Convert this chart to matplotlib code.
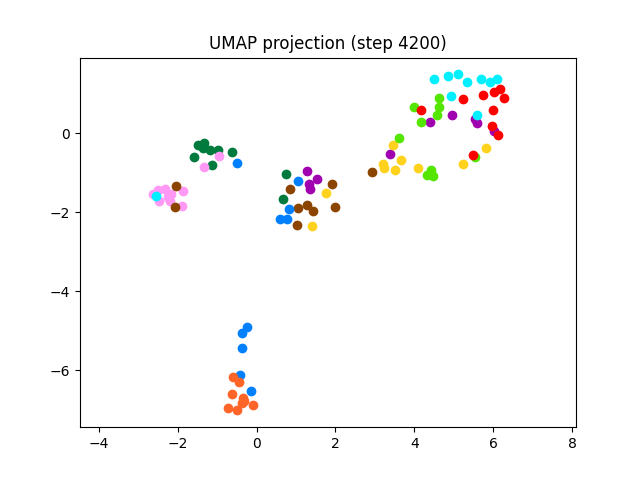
import matplotlib
matplotlib.use("Agg")
import matplotlib.pyplot as plt

# cluster points, grouped by colour
green_x = [-1.48, -1.33, -1.36, -1.37, -1.19, -0.97, -1.58, -1.14, -0.62]
green_y = [-0.30, -0.25, -0.36, -0.30, -0.43, -0.41, -0.60, -0.81, -0.47]

pink_x = [-0.95, -1.33, -2.62, -2.50, -2.33, -2.16, -1.86, -2.47, -2.20, -1.90, -2.25]
pink_y = [-0.58, -0.85, -1.53, -1.44, -1.40, -1.53, -1.46, -1.71, -1.71, -1.85, -1.60]

blue_x = [-0.49, 1.06, 0.82, 0.59, 0.76, -0.25, -0.38, -0.38, -0.41, -0.14]
blue_y = [-0.75, -1.21, -1.92, -2.16, -2.16, -4.90, -5.06, -5.44, -6.11, -6.52]

brown_x = [-2.05, -2.06, 0.85, 1.92, 1.04, 1.27, 1.44, 1.99, 1.02, 2.92]
brown_y = [-1.34, -1.87, -1.40, -1.29, -1.88, -1.82, -1.97, -1.87, -2.31, -0.98]

dkgreen2_x = [0.74, 0.68]
dkgreen2_y = [-1.04, -1.65]

purple_x = [1.27, 1.52, 1.34, 1.35, 4.96, 4.40, 5.54, 5.60, 6.02, 3.38]
purple_y = [-0.95, -1.15, -1.27, -1.40, 0.47, 0.29, 0.35, 0.25, 0.05, -0.53]

yellow_x = [1.76, 1.41, 3.45, 3.65, 3.20, 3.23, 3.50, 4.09, 5.24, 5.81]
yellow_y = [-1.50, -2.35, -0.29, -0.67, -0.78, -0.87, -0.94, -0.89, -0.77, -0.37]

lime_x = [4.62, 4.63, 3.99, 4.57, 4.16, 3.60, 5.54, 4.42, 4.31, 4.48]
lime_y = [0.89, 0.67, 0.67, 0.47, 0.29, -0.12, -0.60, -0.94, -1.06, -1.09]

red_x = [5.24, 5.74, 6.01, 6.16, 6.28, 6.00, 4.17, 5.98, 6.11, 5.50]
red_y = [0.88, 0.96, 1.05, 1.11, 0.89, 0.60, 0.60, 0.18, -0.05, -0.56]

cyan_x = [4.50, 4.85, 5.10, 5.33, 5.69, 5.92, 6.09, 4.92, 5.58, -2.56]
cyan_y = [1.37, 1.44, 1.49, 1.30, 1.38, 1.30, 1.37, 0.94, 0.47, -1.59]

orange_x = [-0.59, -0.44, -0.63, -0.34, -0.36, -0.10, -0.72, -0.51, -0.32]
orange_y = [-6.17, -6.30, -6.59, -6.69, -6.83, -6.87, -6.95, -7.01, -6.76]

groups = [
    (green_x + dkgreen2_x, green_y + dkgreen2_y, "#007a3d"),
    (pink_x, pink_y, "#ff99f5"),
    (brown_x, brown_y, "#8b4500"),
    (purple_x, purple_y, "#a000b0"),
    (blue_x, blue_y, "#0080ff"),
    (yellow_x, yellow_y, "#ffd21e"),
    (lime_x, lime_y, "#55e600"),
    (red_x, red_y, "#ff0000"),
    (cyan_x, cyan_y, "#00f0ff"),
    (orange_x, orange_y, "#ff6428"),
]

fig, ax = plt.subplots(figsize=(6.4, 4.8), dpi=100)
for xs, ys, c in groups:
    ax.scatter(xs, ys, color=c, s=36)
ax.set_xlim(-4.48, 8.1)
ax.set_title("UMAP projection (step 4200)")
fig.savefig("out.png")
